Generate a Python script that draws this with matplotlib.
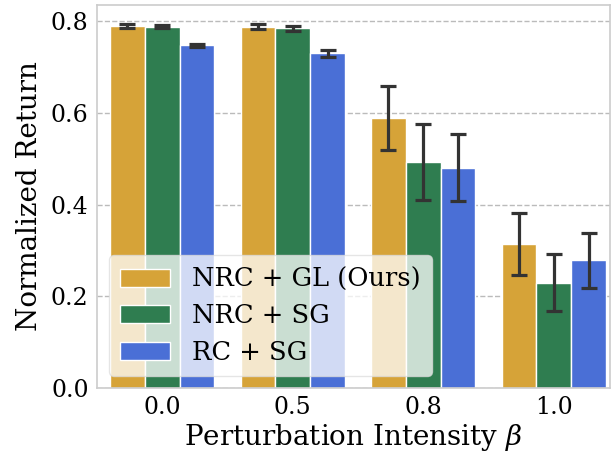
import matplotlib
matplotlib.use('Agg')
import matplotlib.pyplot as plt
import numpy as np

plt.rcParams['font.family'] = ['DejaVu Serif']
plt.rcParams['mathtext.fontset'] = 'dejavuserif'

betas = ['0.0', '0.5', '0.8', '1.0']
methods = ['NRC + GL (Ours)', 'NRC + SG', 'RC + SG']
colors = ['#d6a338', '#2f7d50', '#4a6fd6']

means = [
    [0.790, 0.788, 0.589, 0.314],
    [0.788, 0.784, 0.493, 0.230],
    [0.747, 0.730, 0.480, 0.278],
]
errs = [
    [0.004, 0.005, 0.070, 0.067],
    [0.004, 0.006, 0.083, 0.063],
    [0.003, 0.008, 0.073, 0.061],
]

fig = plt.figure(figsize=(6.12, 4.57), dpi=100)
ax = fig.add_axes([0.1585, 0.151, 0.838, 0.838])

x = np.arange(len(betas))
w = 0.8 / len(methods)
for i, m in enumerate(methods):
    pos = x - 0.4 + w * (i + 0.5)
    ax.bar(pos, means[i], width=w, color=colors[i], edgecolor='white',
           linewidth=1.0, label=m, zorder=2)
    ax.errorbar(pos, means[i], yerr=errs[i], fmt='none', ecolor='#333333',
                elinewidth=2.3, capsize=5.8, capthick=2.3, zorder=3)

ax.set_xlim(-0.5, 3.43)
ax.set_ylim(0, 0.835)
ax.set_xticks(x)
ax.set_xticklabels(betas)
ax.set_yticks([0.0, 0.2, 0.4, 0.6, 0.8])
ax.set_yticklabels(['0.0', '0.2', '0.4', '0.6', '0.8'])
ax.tick_params(length=0, labelsize=17, pad=6)
ax.grid(axis='y', linestyle='--', color='#bbbbbb', linewidth=1, zorder=0)
ax.set_axisbelow(True)
for s in ax.spines.values():
    s.set_color('#cccccc')
    s.set_linewidth(1.2)

ax.set_xlabel(r'Perturbation Intensity $\beta$', fontsize=20, labelpad=2)
ax.set_ylabel('Normalized Return', fontsize=20, labelpad=6)

leg = ax.legend(loc='lower left', fontsize=18.5, framealpha=0.75,
                handlelength=1.95, handleheight=0.7, borderpad=0.45,
                labelspacing=0.45, handletextpad=0.85,
                borderaxespad=0.45)
leg.get_frame().set_edgecolor('#dddddd')

fig.savefig('out.png', dpi=100)
